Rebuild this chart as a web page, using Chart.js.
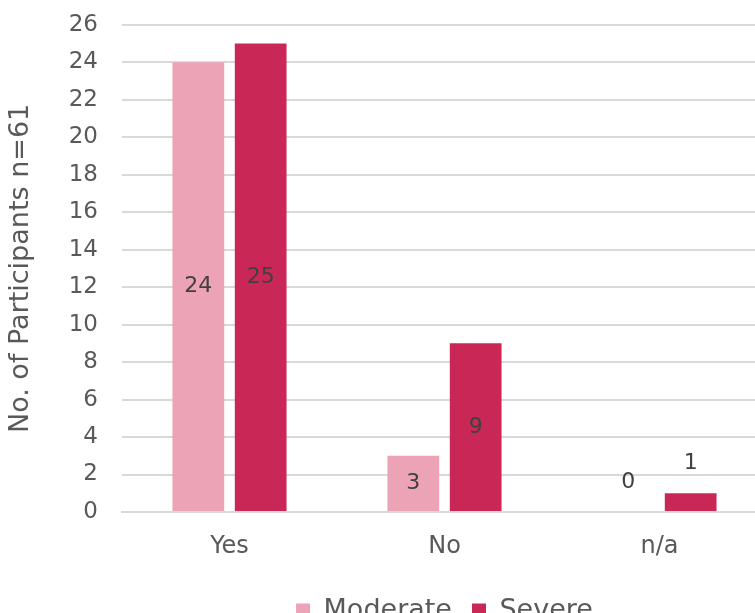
<!DOCTYPE html>
<html>
<head>
<meta charset="utf-8">
<script src="https://cdn.jsdelivr.net/npm/chart.js@4.4.0/dist/chart.umd.min.js"></script>
<style>
  html, body { margin: 0; padding: 0; background: #fff; overflow: hidden; width: 755px; height: 613px; }
  /* the original plot runs off the right and bottom edges, so the canvas is a bit larger than the page */
  #wrap { position: absolute; left: 0; top: -13px; width: 767px; height: 647px; }
</style>
</head>
<body>
<div id="wrap"><canvas id="chart"></canvas></div>
<script>
var categories = ['Yes', 'No', 'n/a'];
var moderate = [24, 3, 0];
var severe = [25, 9, 1];
var seriesNames = ['Moderate', 'Severe'];
var yTitle = 'No. of Participants n=61';

var FONT = "'DejaVu Sans', sans-serif";
var TEXT = '#595959';
var GRID = '#D9D9D9';

// labels in the middle of each bar, or just above when the bar is too short
var barLabels = {
    id: 'barLabels',
    afterDatasetsDraw: function (chart) {
        var ctx = chart.ctx;
        ctx.save();
        ctx.font = '22px ' + FONT;
        ctx.fillStyle = '#404040';
        ctx.textAlign = 'center';
        ctx.textBaseline = 'middle';
        chart.data.datasets.forEach(function (ds, i) {
            chart.getDatasetMeta(i).data.forEach(function (bar, j) {
                var v = ds.data[j];
                var h = bar.base - bar.y;
                var y = h > 30 ? bar.y + h / 2 : bar.y - 30;
                ctx.fillText(String(v), bar.x, y);
            });
        });
        ctx.restore();
    }
};

new Chart(document.getElementById('chart'), {
    type: 'bar',
    data: {
        labels: categories,
        datasets: [{
            label: seriesNames[0],
            data: moderate,
            backgroundColor: '#EBA3B5',
            borderColor: '#EBA3B5',
            categoryPercentage: 0.58,
            barPercentage: 0.83
        }, {
            label: seriesNames[1],
            data: severe,
            backgroundColor: '#C92856',
            borderColor: '#C92856',
            categoryPercentage: 0.58,
            barPercentage: 0.83
        }]
    },
    options: {
        responsive: true,
        maintainAspectRatio: false,
        animation: false,
        layout: { padding: 0 },
        plugins: {
            tooltip: { enabled: false },
            legend: {
                position: 'bottom',
                fullSize: false,
                labels: {
                    font: { family: FONT, size: 27 },
                    color: TEXT,
                    boxWidth: 14,
                    boxHeight: 14,
                    padding: 20
                }
            }
        },
        scales: {
            x: {
                grid: { display: false },
                border: { color: GRID, width: 2 },
                ticks: { font: { family: FONT, size: 24 }, color: TEXT, padding: 12 },
                afterFit: function (s) { s.height = 65; }
            },
            y: {
                min: 0,
                max: 26,
                ticks: { stepSize: 2, font: { family: FONT, size: 23 }, color: TEXT, padding: 24 },
                grid: { color: GRID, lineWidth: 2, drawTicks: false },
                border: { display: false },
                title: {
                    display: true,
                    text: yTitle,
                    font: { family: FONT, size: 27 },
                    color: TEXT,
                    padding: { top: 5, bottom: 0 }
                },
                afterFit: function (s) { s.width = 122; }
            }
        }
    },
    plugins: [barLabels]
});
</script>
</body>
</html>
